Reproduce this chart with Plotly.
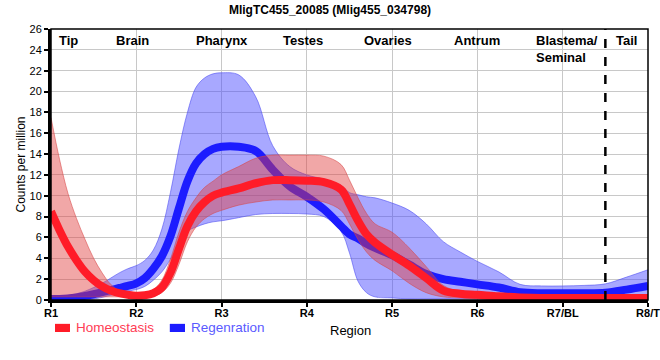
import plotly.graph_objects as go

# ---------------- data ----------------
regions_x = [1, 2, 3, 4, 5, 6, 7, 8]
tick_labels = ["R1", "R2", "R3", "R4", "R5", "R6", "R7/BL", "R8/T"]
tissue_labels = ["Tip", "Brain", "Pharynx", "Testes", "Ovaries", "Antrum", "Blastema/<br>Seminal", "Tail"]
series_names = ["Homeostasis", "Regenration"]

x = [1.0, 1.1, 1.2, 1.3, 1.4, 1.5, 1.6, 1.7, 1.8, 1.9, 2.0, 2.1, 2.2, 2.3, 2.4, 2.5, 2.6, 2.7, 2.8, 2.9,
     3.0, 3.2, 3.4, 3.6, 3.8, 4.0, 4.2, 4.4, 4.5, 4.6, 4.7, 4.8, 5.0, 5.2, 5.4, 5.6, 5.8, 6.0,
     6.25, 6.5, 6.75, 7.0, 7.25, 7.5, 7.75, 8.0]

homeo_mean = [8.5, 6.7, 5.1, 3.8, 2.7, 1.9, 1.3, 0.9, 0.65, 0.5, 0.4, 0.45, 0.65, 1.2, 2.6, 4.9, 7.1, 8.5, 9.4, 10.0,
              10.3, 10.7, 11.2, 11.5, 11.5, 11.45, 11.3, 10.6, 9.2, 7.6, 6.3, 5.5, 4.35, 3.3, 2.1, 0.9, 0.6, 0.5,
              0.35, 0.25, 0.2, 0.2, 0.2, 0.2, 0.2, 0.2]
homeo_hi = [17.5, 13.5, 10.2, 7.8, 5.8, 4.0, 2.6, 1.5, 0.9, 0.65, 0.6, 0.65, 1.0, 1.9, 3.9, 6.5, 8.5, 9.8, 10.8, 11.4,
            12.0, 12.8, 13.6, 13.9, 13.9, 13.9, 13.8, 13.0, 11.5, 9.8, 8.3, 7.3, 6.5, 5.0, 3.2, 1.4, 0.8, 0.6,
            0.5, 0.5, 0.5, 0.5, 0.5, 0.5, 0.5, 0.5]
homeo_lo = [0.3, 0.3, 0.3, 0.3, 0.3, 0.3, 0.3, 0.3, 0.3, 0.25, 0.2, 0.25, 0.4, 0.7, 1.6, 3.4, 5.6, 7.0, 7.8, 8.3,
            8.6, 9.1, 9.4, 9.6, 9.6, 9.6, 9.4, 8.6, 7.3, 5.8, 4.6, 3.8, 2.8, 1.6, 0.7, 0.3, 0.2, 0.1,
            0.0, -0.15, -0.2, -0.1, 0.0, 0.0, 0.0, 0.0]

regen_mean = [0.1, 0.1, 0.15, 0.25, 0.4, 0.55, 0.75, 0.95, 1.15, 1.35, 1.6, 2.1, 3.0, 4.2, 6.1, 8.8, 11.4, 13.1, 14.0, 14.5,
              14.7, 14.7, 14.3, 12.5, 10.9, 9.9, 8.7, 7.1, 6.3, 5.9, 5.4, 5.0, 4.3, 3.4, 2.5, 2.0, 1.75, 1.5,
              1.2, 0.75, 0.65, 0.65, 0.65, 0.7, 1.0, 1.35]
regen_hi = [0.3, 0.35, 0.45, 0.6, 0.85, 1.2, 1.6, 2.1, 2.6, 3.0, 3.3, 3.8, 4.8, 6.8, 10.3, 14.5, 18.0, 20.4, 21.3, 21.7,
            21.8, 21.6, 19.5, 14.8, 12.8, 12.0, 11.6, 11.0, 10.3, 10.1, 9.9, 9.8, 9.3, 8.6, 7.3, 5.6, 4.6, 3.7,
            2.7, 1.5, 1.35, 1.35, 1.4, 1.55, 2.2, 2.9]
regen_lo = [-0.3, -0.3, -0.2, -0.1, 0.0, 0.1, 0.25, 0.45, 0.65, 0.85, 1.0, 1.3, 1.9, 2.7, 3.9, 5.3, 6.6, 7.0, 7.3, 7.5,
            7.6, 7.9, 8.2, 8.3, 8.3, 8.25, 8.0, 6.6, 4.5, 1.8, 0.7, 0.3, 0.2, 0.1, 0.1, 0.1, 0.1, 0.1,
            0.1, 0.1, 0.1, 0.1, 0.1, 0.1, 0.1, 0.1]

# ---------------- styling ----------------
RED_LINE = "rgb(255,28,40)"
BLUE_LINE = "rgb(28,28,255)"
RED_FILL = "rgba(225,60,60,0.45)"
BLUE_FILL = "rgba(70,70,255,0.47)"
RED_EDGE = "rgba(215,70,70,0.55)"
BLUE_EDGE = "rgba(70,70,240,0.55)"
FONT = "Liberation Sans, Arial, sans-serif"

fig = go.Figure()


def band(lo, hi, fill, edge):
    fig.add_trace(go.Scatter(x=x, y=lo, mode="lines", line=dict(color=edge, width=1, shape="spline", smoothing=1),
                             showlegend=False, hoverinfo="skip"))
    fig.add_trace(go.Scatter(x=x, y=hi, mode="lines", line=dict(color=edge, width=1, shape="spline", smoothing=1),
                             fill="tonexty", fillcolor=fill, showlegend=False, hoverinfo="skip"))


band(regen_lo, regen_hi, BLUE_FILL, BLUE_EDGE)
fig.add_trace(go.Scatter(x=x, y=regen_mean, mode="lines", name=series_names[1],
                         line=dict(color=BLUE_LINE, width=8, shape="spline", smoothing=1), showlegend=False))
band(homeo_lo, homeo_hi, RED_FILL, RED_EDGE)
fig.add_trace(go.Scatter(x=x, y=homeo_mean, mode="lines", name=series_names[0],
                         line=dict(color=RED_LINE, width=8, shape="spline", smoothing=1), showlegend=False))

# tissue labels at top of plot
label_pos = [1.2, 1.96, 3.0, 3.95, 4.95, 6.0, 6.66, 7.75]
label_anchor = ["center"] * 6 + ["left", "center"]
annotations = []
for t, px, xa in zip(tissue_labels, label_pos, label_anchor):
    annotations.append(dict(x=px, y=25.85, xref="x", yref="y", text="<b>" + t + "</b>", showarrow=False,
                            xanchor=xa, yanchor="top", align="left",
                            font=dict(family=FONT, size=13, color="black")))

# manual legend + x title
legend_cfg = [(series_names[0], RED_LINE, "rgb(255,60,85)", 0.0067, 0.0318, 0.0385),
              (series_names[1], BLUE_LINE, "rgb(90,90,255)", 0.199, 0.2245, 0.231)]
shapes = []
for name, bar_col, txt_col, x0, x1, tx in legend_cfg:
    shapes.append(dict(type="rect", xref="paper", yref="paper", x0=x0, x1=x1, y0=-0.118, y1=-0.088,
                       fillcolor=bar_col, line=dict(width=0)))
    annotations.append(dict(x=tx, y=-0.103, xref="paper", yref="paper", text=name, showarrow=False,
                            xanchor="left", yanchor="middle", font=dict(family=FONT, size=13.5, color=txt_col)))
annotations.append(dict(x=0.502, y=-0.111, xref="paper", yref="paper", text="Region", showarrow=False,
                        xanchor="center", yanchor="middle", font=dict(family=FONT, size=13, color="black")))

# frame and dashed separator
shapes.append(dict(type="rect", xref="paper", yref="paper", x0=0, x1=1, y0=0, y1=1,
                   line=dict(color="black", width=1.5), layer="above"))
shapes.append(dict(type="line", xref="x", yref="y", x0=7.5, x1=7.5, y0=0, y1=26,
                   line=dict(color="black", width=2.5, dash="dash"), layer="above"))

fig.update_layout(
    width=660, height=360,
    margin=dict(l=51, r=12, t=29, b=60),
    paper_bgcolor="white", plot_bgcolor="white",
    title=dict(text="<b>MligTC455_20085 (Mlig455_034798)</b>", x=0.5, xanchor="center",
               y=1 - 10 / 360, yanchor="middle", font=dict(family=FONT, size=12, color="black")),
    xaxis=dict(range=[1, 8], tickvals=regions_x, ticktext=["<b>" + t + "</b>" for t in tick_labels],
               showgrid=True, gridcolor="#c8c8c8", gridwidth=1, zeroline=False, automargin=False,
               showline=True, linecolor="black", linewidth=3, ticks="outside", ticklen=4, tickwidth=1.5,
               ticklabelstandoff=-3, ticklabeloverflow="allow",
               tickcolor="black", tickfont=dict(family=FONT, size=11, color="black")),
    yaxis=dict(range=[0, 26], dtick=2, showgrid=True, gridcolor="#c8c8c8", gridwidth=1, zeroline=False,
               showline=True, linecolor="black", linewidth=3, ticks="outside", ticklen=4, tickwidth=1.5,
               tickcolor="black", tickfont=dict(family=FONT, size=11, color="black"), automargin=False,
               title=dict(text="Counts per million", standoff=2, font=dict(family=FONT, size=12, color="black"))),
    shapes=shapes,
    annotations=annotations,
    showlegend=False,
)

fig.write_html("out.html", config={"displayModeBar": False},
               post_script="document.body.style.margin='0';document.body.style.padding='0';")
